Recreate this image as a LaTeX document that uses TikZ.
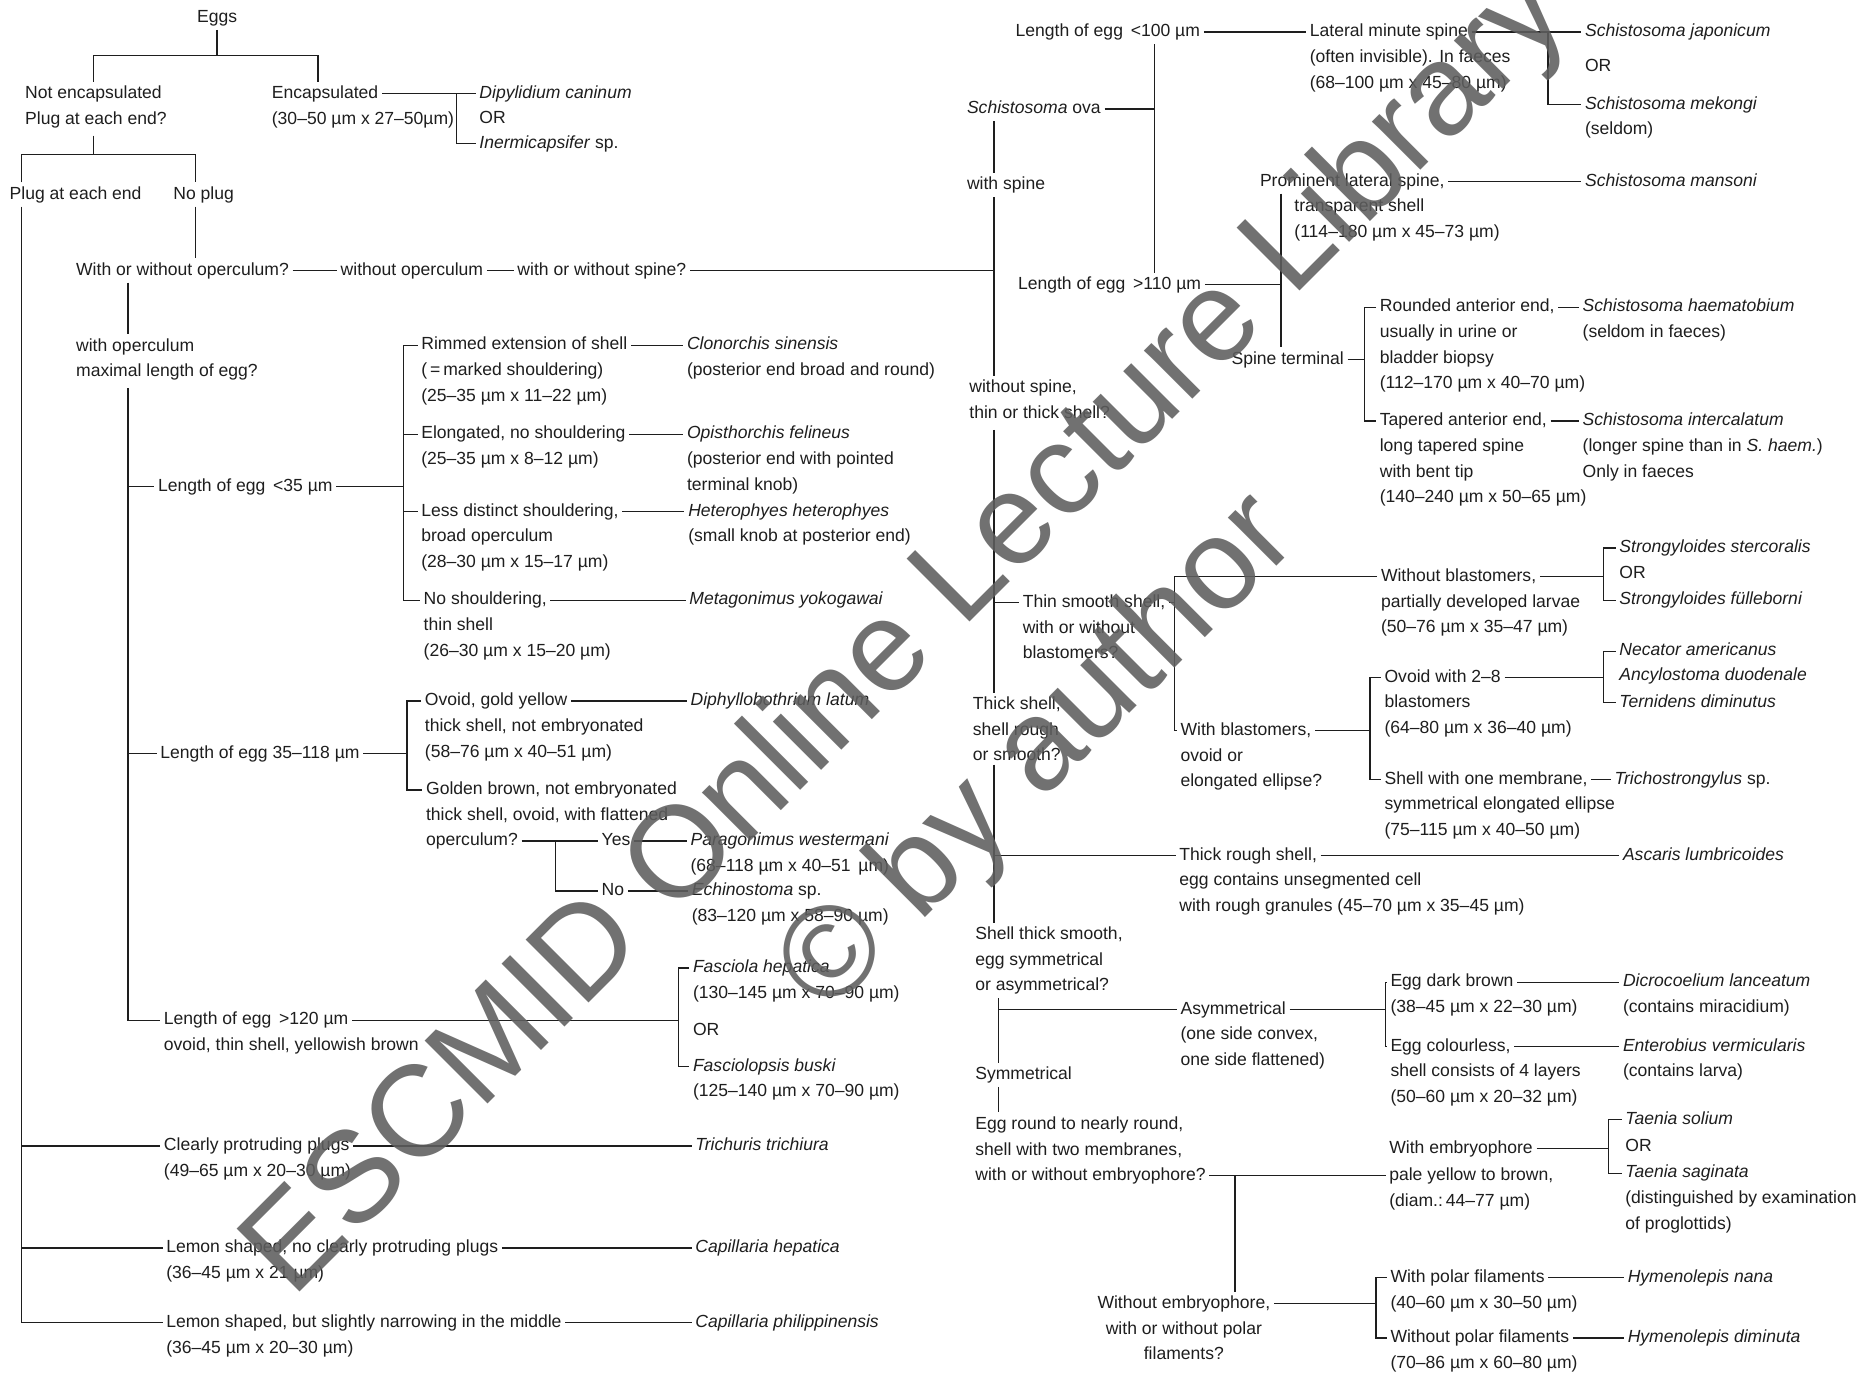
\documentclass[tikz,border=0pt]{standalone}
\usepackage{fontspec}
\setmainfont{Liberation Sans}
\definecolor{ink}{HTML}{1E1E1E}
\definecolor{wmgray}{HTML}{5E5E5E}
\newcommand\myfs{\fontsize{14.8}{21.5}\selectfont}
\newcommand\mymore[2]{\node[mr] (#1-r) at ([xshift=3pt,yshift=-7.45pt]#1.west) {\strut #2};}
\tikzset{
 basefont/.style={font=\myfs, text=ink},
 hd/.style={basefont, anchor=west, xshift=-3pt, inner xsep=3pt, inner ysep=6pt, text height=8pt, text depth=0pt},
 hdc/.style={basefont, anchor=center, inner xsep=3pt, inner ysep=6pt, text height=8pt, text depth=0pt},
 mr/.style={basefont, anchor=north west, align=left, inner xsep=0pt, inner ysep=3pt},
 wm/.style={font=\fontsize{109}{130}\selectfont, text=wmgray, text opacity=0.88, rotate=45, anchor=base, inner sep=0pt},
}
\begin{document}
\begin{tikzpicture}[x=1pt,y=-1pt]
\fill[white] (0,0) rectangle (1568,1157);
\useasboundingbox (0,0) rectangle (1568,1157);
% ---------------- left half ----------------
\node[hdc] (eggs) at (183,15) {Eggs};
\node[hd] (notenc) at (21,79) {Not encapsulated};
\mymore{notenc}{Plug at each end?}
\node[hd] (enc) at (229,79) {Encapsulated};
\mymore{enc}{(30–50 µm x 27–50µm)}
\node[hd] (dipy) at (404,79) {\textit{Dipylidium caninum}};
\node[hd] (or1) at (404,100) {OR};
\node[hd] (inerm) at (404,121) {\textit{Inermicapsifer} sp.};
\node[hd] (plug) at (8,164) {Plug at each end};
\node[hd] (noplug) at (146,164) {No plug};
\node[hd] (wwo) at (64,228) {With or without operculum?};
\node[hd] (woop) at (287,228) {without operculum};
\node[hd] (wwsp) at (436,228) {with or without spine?};
\node[hd] (wop) at (64,292) {with operculum};
\mymore{wop}{maximal length of egg?}
\node[hd] (lg1) at (133,410) {Length of egg \,<35 µm};
\node[hd] (lg2) at (135,635) {Length of egg 35–118 µm};
\node[hd] (lg3) at (138,860) {Length of egg \,>120 µm};
\mymore{lg3}{ovoid, thin shell, yellowish brown}
\node[hd] (rim) at (355,291) {Rimmed extension of shell};
\mymore{rim}{(\,=\,marked shouldering)\\(25–35 µm x 11–22 µm)}
\node[hd] (clon) at (579,291) {\textit{Clonorchis sinensis}};
\mymore{clon}{(posterior end broad and round)}
\node[hd] (elo) at (355,366) {Elongated, no shouldering};
\mymore{elo}{(25–35 µm x 8–12 µm)}
\node[hd] (opis) at (579,366) {\textit{Opisthorchis felineus}};
\mymore{opis}{(posterior end with pointed\\terminal knob)}
\node[hd] (less) at (355,431) {Less distinct shouldering,};
\mymore{less}{broad operculum\\(28–30 µm x 15–17 µm)}
\node[hd] (hete) at (580,431) {\textit{Heterophyes heterophyes}};
\mymore{hete}{(small knob at posterior end)}
\node[hd] (nosh) at (357,506) {No shouldering,};
\mymore{nosh}{thin shell\\(26–30 µm x 15–20 µm)}
\node[hd] (meta) at (581,506) {\textit{Metagonimus yokogawai}};
\node[hd] (ovo) at (358,591) {Ovoid, gold yellow};
\mymore{ovo}{thick shell, not embryonated\\(58–76 µm x 40–51 µm)}
\node[hd] (diph) at (582,591) {\textit{Diphyllobothrium latum}};
\node[hd] (gold) at (359,666) {Golden brown, not embryonated};
\mymore{gold}{thick shell, ovoid, with flattened}
\node[hd] (opq) at (359,709) {operculum?};
\node[hd] (yes) at (507,709) {Yes};
\node[hd] (para) at (582,709) {\textit{Paragonimus westermani}};
\mymore{para}{(68–118 µm x 40–51 \,µm)}
\node[hd] (no) at (507,751) {No};
\node[hd] (echi) at (583,751) {\textit{Echinostoma} sp.};
\mymore{echi}{(83–120 µm x 58–90 µm)}
\node[hd] (fasc) at (584,816) {\textit{Fasciola hepatica}};
\mymore{fasc}{(130–145 µm x 70–90 µm)}
\node[hd] (or2) at (584,869) {OR};
\node[hd] (fbus) at (584,899) {\textit{Fasciolopsis buski}};
\mymore{fbus}{(125–140 µm x 70–90 µm)}
\node[hd] (cpp) at (138,966) {Clearly protruding plugs};
\mymore{cpp}{(49–65 µm x 20–30 µm)}
\node[hd] (tri) at (586,966) {\textit{Trichuris trichiura}};
\node[hd] (lem1) at (140,1052) {Lemon shaped, no clearly protruding plugs};
\mymore{lem1}{(36–45 µm x 21 µm)}
\node[hd] (caph) at (586,1052) {\textit{Capillaria hepatica}};
\node[hd] (lem2) at (140,1115) {Lemon shaped, but slightly narrowing in the middle};
\mymore{lem2}{(36–45 µm x 20–30 µm)}
\node[hd] (capp) at (586,1115) {\textit{Capillaria philippinensis}};
% ---------------- right half ----------------
\node[hd] (lt100) at (856,27) {Length of egg \,<100 µm};
\node[hd] (lat) at (1104,27) {Lateral minute spine};
\mymore{lat}{(often invisible). In faeces\\(68–100 µm x 45–80 µm)}
\node[hd] (sjap) at (1336,27) {\textit{Schistosoma japonicum}};
\node[hd] (or3) at (1336,56) {OR};
\node[hd] (smek) at (1336,88) {\textit{Schistosoma mekongi}};
\mymore{smek}{(seldom)}
\node[hd] (schova) at (815,92) {\textit{Schistosoma} ova};
\node[hd] (withsp) at (815,156) {with spine};
\node[hd] (prom) at (1062,153) {Prominent lateral spine,};
\node[mr] (prom-r) at ([xshift=32pt,yshift=-7.45pt]prom.west) {\strut transparent shell\\(114–180 µm x 45–73 µm)};
\node[hd] (sman) at (1336,153) {\textit{Schistosoma mansoni}};
\node[hd] (gt110) at (858,240) {Length of egg \,>110 µm};
\node[hd] (spt) at (1038,303) {Spine terminal};
\node[hd] (rnd) at (1163,259) {Rounded anterior end,};
\mymore{rnd}{usually in urine or\\bladder biopsy\\(112–170 µm x 40–70 µm)}
\node[hd] (shae) at (1334,259) {\textit{Schistosoma haematobium}};
\mymore{shae}{(seldom in faeces)}
\node[hd] (tap) at (1163,355) {Tapered anterior end,};
\mymore{tap}{long tapered spine\\with bent tip\\(140–240 µm x 50–65 µm)}
\node[hd] (sint) at (1334,355) {\textit{Schistosoma intercalatum}};
\mymore{sint}{(longer spine than in \textit{S. haem.})\\Only in faeces}
\node[hd] (wosp) at (817,327) {without spine,};
\mymore{wosp}{thin or thick shell?}
\node[hd] (tss) at (862,508) {Thin smooth shell,};
\mymore{tss}{with or without\\blastomers?}
\node[hd] (wob) at (1164,486) {Without blastomers,};
\mymore{wob}{partially developed larvae\\(50–76 µm x 35–47 µm)}
\node[hd] (sst) at (1365,462) {\textit{Strongyloides stercoralis}};
\node[hd] (or4) at (1365,484) {OR};
\node[hd] (sfu) at (1365,506) {\textit{Strongyloides fülleborni}};
\node[hd] (wib) at (995,616) {With blastomers,};
\mymore{wib}{ovoid or\\elongated ellipse?}
\node[hd] (ov28) at (1167,571) {Ovoid with 2–8};
\mymore{ov28}{blastomers\\(64–80 µm x 36–40 µm)}
\node[hd] (neca) at (1365,549) {\textit{Necator americanus}};
\node[hd] (ancy) at (1365,570) {\textit{Ancylostoma duodenale}};
\node[hd] (tern) at (1365,592) {\textit{Ternidens diminutus}};
\node[hd] (sh1) at (1167,657) {Shell with one membrane,};
\mymore{sh1}{symmetrical elongated ellipse\\(75–115 µm x 40–50 µm)}
\node[hd] (trst) at (1361,657) {\textit{Trichostrongylus} sp.};
\node[hd] (thick) at (820,594) {Thick shell,};
\mymore{thick}{shell rough\\or smooth?}
\node[hd] (trs) at (994,721) {Thick rough shell,};
\mymore{trs}{egg contains unsegmented cell\\with rough granules (45–70 µm x 35–45 µm)}
\node[hd] (asc) at (1368,721) {\textit{Ascaris lumbricoides}};
\node[hd] (sts) at (822,788) {Shell thick smooth,};
\mymore{sts}{egg symmetrical\\or asymmetrical?}
\node[hd] (asy) at (995,851) {Asymmetrical};
\mymore{asy}{(one side convex,\\one side flattened)}
\node[hd] (edb) at (1172,828) {Egg dark brown};
\mymore{edb}{(38–45 µm x 22–30 µm)}
\node[hd] (dicr) at (1368,828) {\textit{Dicrocoelium lanceatum}};
\mymore{dicr}{(contains miracidium)}
\node[hd] (ecol) at (1172,882) {Egg colourless,};
\mymore{ecol}{shell consists of 4 layers\\(50–60 µm x 20–32 µm)}
\node[hd] (ent) at (1368,882) {\textit{Enterobius vermicularis}};
\mymore{ent}{(contains larva)}
\node[hd] (sym) at (822,906) {Symmetrical};
\node[hd] (egr) at (822,948) {Egg round to nearly round,};
\mymore{egr}{shell with two membranes,}
\node[hd] (wwe) at (822,991) {with or without embryophore?};
\node[hd] (wemb) at (1171,968) {With embryophore};
\node[hd] (pale) at (1171,991) {pale yellow to brown,};
\mymore{pale}{(diam.:\,44–77 µm)}
\node[hd] (tsol) at (1370,944) {\textit{Taenia solium}};
\node[hd] (or5) at (1370,967) {OR};
\node[hd] (tsag) at (1370,989) {\textit{Taenia saginata}};
\mymore{tsag}{(distinguished by examination\\of proglottids)}
\node[hdc] (woe) at (998,1099) {Without embryophore,};
\node[mr, anchor=north, align=center] (woe-r) at ([yshift=-7.45pt]woe.center) {\strut with or without polar\\filaments?};
\node[hd] (wpf) at (1172,1077) {With polar filaments};
\mymore{wpf}{(40–60 µm x 30–50 µm)}
\node[hd] (hnan) at (1372,1077) {\textit{Hymenolepis nana}};
\node[hd] (wopf) at (1172,1128) {Without polar filaments};
\mymore{wopf}{(70–86 µm x 60–80 µm)}
\node[hd] (hdim) at (1372,1128) {\textit{Hymenolepis diminuta}};
% ---------------- junction coordinates ----------------
\coordinate (j0) at (183,47); \coordinate (jL) at (79,47); \coordinate (jR) at (268,47);
\coordinate (k1) at (79,130); \coordinate (kL) at (18,130); \coordinate (kR) at (165,130);
\coordinate (b0) at (385,0); \coordinate (v1) at (108,0); \coordinate (S) at (838,228);
\coordinate (M) at (838,0); \coordinate (L1) at (973,0);
\coordinate (b1) at (340,0); \coordinate (b2) at (343,0); \coordinate (b3) at (468,0); \coordinate (b4) at (572,0);
\coordinate (b5) at (1305,0); \coordinate (b6) at (1080,0); \coordinate (b7) at (1150,0); \coordinate (b8) at (990,0);
\coordinate (b9) at (1352,0); \coordinate (b10) at (1155,0); \coordinate (b11) at (1352,0); \coordinate (M2) at (842,0);
\coordinate (b12) at (1168,0); \coordinate (b13) at (1041,0); \coordinate (b14) at (1160,0); \coordinate (b15) at (1356,0);
% ---------------- connectors ----------------
\begin{scope}[draw=ink, line width=1.1pt]
\draw (eggs.south) -- (j0);
\draw (jL |- notenc.north) -- (jL) -- (jR) -- (jR |- enc.north);
\draw (enc.east) -- (dipy.west);
\draw (b0 |- dipy.west) -- (b0 |- inerm.west) -- (inerm.west);
\draw (k1 |- notenc-r.south) -- (k1);
\draw (kL |- plug.north) -- (kL) -- (kR) -- (kR |- noplug.north);
\draw (kL |- plug.south) -- (kL |- lem2.west) -- (lem2.west);
\draw (kL |- cpp.west) -- (cpp.west);
\draw (kL |- lem1.west) -- (lem1.west);
\draw (cpp.east) -- (tri.west);
\draw (lem1.east) -- (caph.west);
\draw (lem2.east) -- (capp.west);
\draw (kR |- noplug.south) -- (kR |- wwo.north);
\draw (wwo.east) -- (woop.west);
\draw (woop.east) -- (wwsp.west);
\draw (wwsp.east) -- (S);
\draw (v1 |- wwo.south) -- (v1 |- wop.north);
\draw (v1 |- wop-r.south) -- (v1 |- lg3.west) -- (lg3.west);
\draw (v1 |- lg1.west) -- (lg1.west);
\draw (v1 |- lg2.west) -- (lg2.west);
\draw (lg1.east) -- (b1 |- lg1.east);
\draw (rim.west) -- (b1 |- rim.west) -- (b1 |- nosh.west) -- (nosh.west);
\draw (elo.west) -- (b1 |- elo.west);
\draw (less.west) -- (b1 |- less.west);
\draw (rim.east) -- (clon.west);
\draw (elo.east) -- (opis.west);
\draw (less.east) -- (hete.west);
\draw (nosh.east) -- (meta.west);
\draw (lg2.east) -- (b2 |- lg2.east);
\draw (ovo.west) -- (b2 |- ovo.west) -- (b2 |- gold.west) -- (gold.west);
\draw (ovo.east) -- (diph.west);
\draw (opq.east) -- (yes.west);
\draw (yes.east) -- (para.west);
\draw (b3 |- opq.east) -- (b3 |- no.west) -- (no.west);
\draw (no.east) -- (echi.west);
\draw (lg3.east) -- (b4 |- lg3.east);
\draw (fasc.west) -- (b4 |- fasc.west) -- (b4 |- fbus.west) -- (fbus.west);
% right
\draw (schova.east) -- (L1 |- schova.east);
\draw (L1 |- lt100.south) -- (L1 |- gt110.north);
\draw (M |- schova.south) -- (M |- withsp.north);
\draw (M |- withsp.south) -- (M |- wosp.north);
\draw (lt100.east) -- (lat.west);
\draw (lat.east) -- (sjap.west);
\draw (b5 |- lat.east) -- (b5 |- smek.west) -- (smek.west);
\draw (gt110.east) -- (b6 |- gt110.east);
\draw (b6 |- prom.south) -- (b6 |- spt.north);
\draw (prom.east) -- (sman.west);
\draw (spt.east) -- (b7 |- spt.east);
\draw (rnd.west) -- (b7 |- rnd.west) -- (b7 |- tap.west) -- (tap.west);
\draw (rnd.east) -- (shae.west);
\draw (tap.east) -- (sint.west);
\draw (M |- wosp-r.south) -- (M |- thick.north);
\draw (M |- tss.west) -- (tss.west);
\draw (tss.east) -- (b8 |- tss.east);
\draw (wob.west) -- (b8 |- wob.west) -- (b8 |- wib.west) -- (wib.west);
\draw (wob.east) -- (b9 |- wob.east);
\draw (sst.west) -- (b9 |- sst.west) -- (b9 |- sfu.west) -- (sfu.west);
\draw (wib.east) -- (b10 |- wib.east);
\draw (ov28.west) -- (b10 |- ov28.west) -- (b10 |- sh1.west) -- (sh1.west);
\draw (ov28.east) -- (b11 |- ov28.east);
\draw (neca.west) -- (b11 |- neca.west) -- (b11 |- tern.west) -- (tern.west);
\draw (sh1.east) -- (trst.west);
\draw (M |- thick-r.south) -- (M |- sts.north);
\draw (M |- trs.west) -- (trs.west);
\draw (trs.east) -- (asc.west);
\draw (M2 |- sts-r.south) -- (M2 |- sym.north);
\draw (M2 |- asy.west) -- (asy.west);
\draw (asy.east) -- (b12 |- asy.east);
\draw (edb.west) -- (b12 |- edb.west) -- (b12 |- ecol.west) -- (ecol.west);
\draw (edb.east) -- (dicr.west);
\draw (ecol.east) -- (ent.west);
\draw (M2 |- sym.south) -- (M2 |- egr.north);
\draw (wwe.east) -- (pale.west);
\draw (b13 |- wwe.east) -- (b13 |- woe.north);
\draw (woe.east) -- (b14 |- woe.east);
\draw (wpf.west) -- (b14 |- wpf.west) -- (b14 |- wopf.west) -- (wopf.west);
\draw (wpf.east) -- (hnan.west);
\draw (wopf.east) -- (hdim.west);
\draw (wemb.east) -- (b15 |- wemb.east);
\draw (tsol.west) -- (b15 |- tsol.west) -- (b15 |- tsag.west) -- (tsag.west);
\end{scope}
% ---------------- watermark ----------------
\node[wm] (wm1) at (786,556) {ESCMID Online Lecture Library};
\node[wm] (wm2) at (897,657) {© by author};
\end{tikzpicture}
\end{document}
